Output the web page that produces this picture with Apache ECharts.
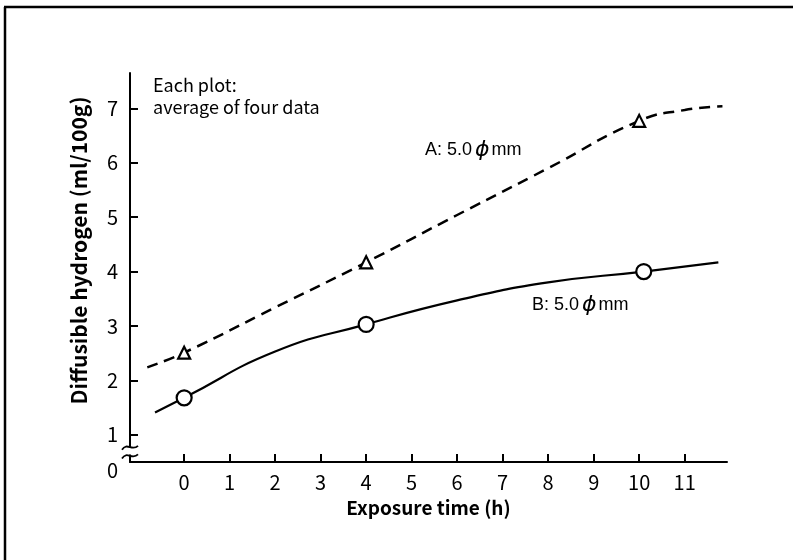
<!DOCTYPE html>
<html>
<head>
<meta charset="utf-8">
<script src="https://cdn.jsdelivr.net/npm/echarts@6/dist/echarts.min.js"></script>
<style>
html,body{margin:0;padding:0;background:#fff;}
#main{width:793px;height:560px;}
</style>
</head>
<body>
<div id="main"></div>
<script>
// ---- data ----
const xTicks = [0,1,2,3,4,5,6,7,8,9,10,11];
const yTicks = [1,2,3,4,5,6,7];
const yLabelValues = [0.5,1,2,3,4,5,6,7]; // 0.5 stands for the broken-axis "0"
const curveAx = [-0.81, 0, 2, 4, 6, 8, 10, 11, 11.83];
const curveAy = [2.24, 2.51, 3.34, 4.17, 5.04, 5.90, 6.77, 6.97, 7.04];
const curveBx = [-0.64, 0, 2, 4, 6, 8, 10.1, 11.74];
const curveBy = [1.41, 1.68, 2.53, 3.03, 3.47, 3.80, 4.00, 4.17];
const pointsAx = [0, 4, 10];
const pointsAy = [2.51, 4.17, 6.77];
const pointsBx = [0, 4, 10.1];
const pointsBy = [1.68, 3.03, 4.00];
const labelA = ['A: 5.0', '\u03D5', 'mm'];
const labelB = ['B: 5.0', '\u03D5', 'mm'];
const note = ['Each plot:', 'average of four data'];
const xName = 'Exposure time (h)';
const yName = 'Diffusible hydrogen (ml/100g)';

const zip = (xs, ys) => xs.map((x, i) => [x, ys[i]]);

const chart = echarts.init(document.getElementById('main'));
const font = '"Noto Sans CJK JP", "Noto Sans", sans-serif';
const option = {
  backgroundColor: '#fff',
  animation: false,
  grid: {left: 130, right: 66, top: 73, bottom: 98},
  xAxis: {
    type: 'value', min: -1.19, max: 11.93,
    splitLine: {show: false},
    axisLine: {onZero: false, lineStyle: {color: '#000', width: 2}},
    axisTick: {inside: true, length: 8, lineStyle: {color: '#000', width: 2}, customValues: xTicks},
    axisLabel: {customValues: xTicks, color: '#000', fontSize: 20, fontFamily: font, margin: 10},
    name: xName, nameLocation: 'middle', nameGap: 36,
    nameTextStyle: {color: '#000', fontSize: 19, fontWeight: 'bold', fontFamily: font}
  },
  yAxis: {
    type: 'value', min: 0.5, max: 7.65,
    splitLine: {show: false},
    axisLine: {onZero: false, lineStyle: {color: '#000', width: 2}},
    axisTick: {inside: true, length: 8, lineStyle: {color: '#000', width: 2}, customValues: yTicks},
    axisLabel: {customValues: yLabelValues, color: '#000', fontSize: 20, fontFamily: font, margin: 12,
      formatter: v => (v === 0.5 ? '{z|0}' : String(v)),
      rich: {z: {fontSize: 20, fontFamily: font, color: '#000', padding: [16, 0, 0, 0]}}},
    name: yName, nameLocation: 'middle', nameGap: 40,
    nameTextStyle: {color: '#000', fontSize: 21, fontWeight: 'bold', fontFamily: font, padding: [0, 0, 0, 34]}
  },
  series: [
    {type: 'line', data: zip(curveAx, curveAy), smooth: 0.5, showSymbol: false, symbol: 'none',
      lineStyle: {color: '#000', width: 2.5, type: [11, 7]}, z: 2},
    {type: 'line', data: zip(curveBx, curveBy), smooth: 0.5, showSymbol: false, symbol: 'none',
      lineStyle: {color: '#000', width: 2.2}, z: 2},
    {type: 'scatter', data: zip(pointsAx, pointsAy), symbol: 'triangle', symbolSize: 12,
      itemStyle: {color: '#fff', opacity: 1, borderColor: '#000', borderWidth: 2.2}, z: 3},
    {type: 'scatter', data: zip(pointsBx, pointsBy), symbol: 'circle', symbolSize: 15,
      itemStyle: {color: '#fff', opacity: 1, borderColor: '#000', borderWidth: 2.2}, z: 3}
  ]
};
chart.setOption(option);

// decorations: frame, annotations, axis break
const p0 = chart.convertToPixel({gridIndex: 0}, [-1.19, 0.62]);
const p1 = chart.convertToPixel({gridIndex: 0}, [-1.19, 0.78]);
const ax = p0[0];
const wave = (y) => ({x1: ax - 8, y1: y + 3, cpx1: ax - 3, cpy1: y - 5, cpx2: ax + 2, cpy2: y + 5, x2: ax + 8, y2: y - 1});
const lab = (parts) => ({
  text: '{t|' + parts[0] + '}{p|' + parts[1] + '}{t|' + parts[2] + '}',
  rich: {
    t: {fontSize: 18, fontFamily: '"Liberation Sans", Arial, sans-serif', color: '#000'},
    p: {fontSize: 22, fontStyle: 'italic', fontFamily: '"DejaVu Sans", sans-serif', color: '#000', padding: [0, 2, 0, 3]}
  }
});
chart.setOption({
  graphic: [
    {type: 'line', shape: {x1: 5, y1: 7, x2: 5, y2: 560}, style: {stroke: '#000', lineWidth: 2.5}},
    {type: 'line', shape: {x1: 4, y1: 7, x2: 793, y2: 7}, style: {stroke: '#000', lineWidth: 2.5}},
    {type: 'rect', shape: {x: ax - 3, y: p1[1] + 1, width: 6, height: p0[1] - p1[1] - 2}, style: {fill: '#fff'}, z: 50},
    {type: 'bezierCurve', shape: wave(p1[1]), style: {stroke: '#000', lineWidth: 1.8, fill: null}, z: 51},
    {type: 'bezierCurve', shape: wave(p0[1]), style: {stroke: '#000', lineWidth: 1.8, fill: null}, z: 51},
    {type: 'text', left: 153, top: 76, style: {text: note[0], fill: '#000', font: '18px ' + font}},
    {type: 'text', left: 153, top: 98, style: {text: note[1], fill: '#000', font: '18px ' + font}},
    {type: 'text', left: 425, top: 139, style: lab(labelA)},
    {type: 'text', left: 532, top: 294, style: lab(labelB)}
  ]
});
</script>
</body>
</html>
